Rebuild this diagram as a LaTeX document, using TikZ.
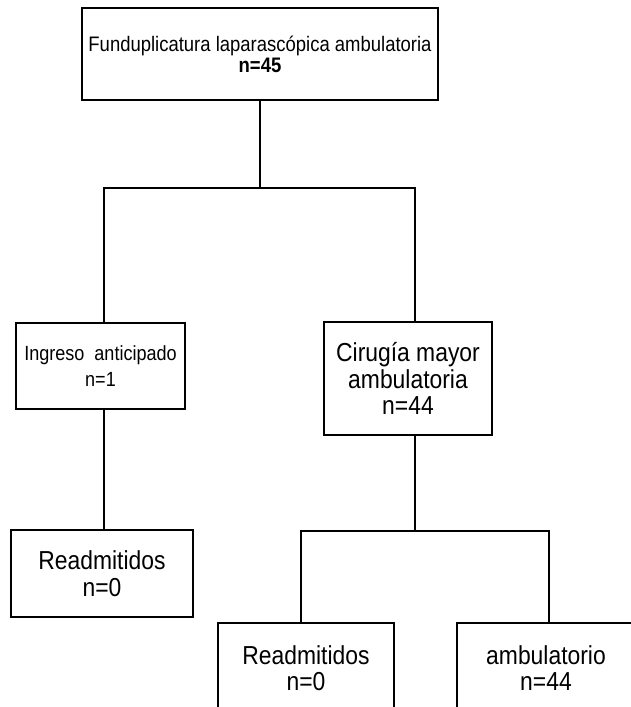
\documentclass[tikz,border=0pt]{standalone}
\usepackage{fontspec}
\setmainfont{Liberation Sans}[FakeStretch=0.88]
\begin{document}
\begin{tikzpicture}[x=1pt,y=-1pt,
    caja/.style={draw, line width=1.5pt, align=center, inner sep=0pt},
    chico/.style={font=\fontsize{21}{21}\selectfont},
    medio/.style={font=\fontsize{20.5}{26}\selectfont},
    grande/.style={font=\fontsize{26}{26.5}\selectfont},
    linea/.style={line width=1.5pt}]
  \clip (0,0) rectangle (631,707);
  % cajas
  \node[caja, chico, minimum width=356pt, minimum height=92pt] (fund) at (260,54)
    {Funduplicatura laparascópica ambulatoria\\\textbf{n=45}};
  \node[caja, medio, minimum width=169pt, minimum height=86pt] (ingreso) at (100.5,366)
    {Ingreso\ \ anticipado\\n=1};
  \node[caja, grande, minimum width=168pt, minimum height=113pt] (cma) at (408,378.5)
    {Cirugía mayor\\ambulatoria\\n=44};
  \node[caja, grande, minimum width=182pt, minimum height=87pt] (readmA) at (102,573.5)
    {Readmitidos\\n=0};
  \node[caja, grande, minimum width=176pt, minimum height=90pt] (readmB) at (306,668)
    {Readmitidos\\n=0};
  \node[caja, grande, minimum width=178pt, minimum height=90pt] (ambul) at (546,668)
    {ambulatorio\\n=44};
  % ramas
  \coordinate (ramaI) at (104,188);
  \coordinate (ramaD) at (415,188);
  \coordinate (subI) at (301,531);
  \coordinate (subD) at (549,531);
  \draw[linea] (fund.south) -- (fund.south |- ramaI);
  \draw[linea] (ingreso.north -| ramaI) -- (ramaI) -- (ramaD) -- (cma.north -| ramaD);
  \draw[linea] (ingreso.south -| ramaI) -- (readmA.north -| ramaI);
  \draw[linea] (cma.south -| ramaD) -- (subI -| ramaD);
  \draw[linea] (readmB.north -| subI) -- (subI) -- (subD) -- (ambul.north -| subD);
\end{tikzpicture}
\end{document}
